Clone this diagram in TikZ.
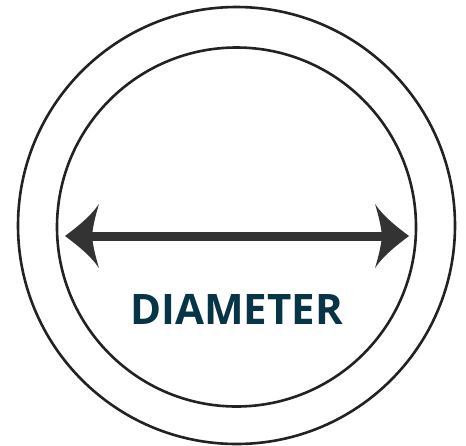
\documentclass[tikz,border=0pt]{standalone}
\usepackage{fontspec}
\setmainfont{Open Sans}
\definecolor{labelblue}{RGB}{8,52,72}
\definecolor{ringgray}{RGB}{34,34,34}
\definecolor{arrowgray}{RGB}{51,51,51}
\tikzset{
  ring/.style={draw=ringgray, line width=2.6pt},
  shaft/.style={draw=arrowgray, line width=9pt},
  head/.style={fill=arrowgray, draw=none},
  label/.style={text=labelblue, font=\fontsize{42}{42}\selectfont\bfseries, inner sep=0pt, anchor=base}
}
\begin{document}
\begin{tikzpicture}[x=1pt,y=-1pt]
\useasboundingbox[fill=white] (0,0) rectangle (466,445);
\coordinate (c) at (236.5,225.5);
\draw[ring] (c) circle[radius=218.5];
\draw[ring] (236.5,227) circle[radius=179.5];
\coordinate (L) at (90,236);
\coordinate (R) at (384,236);
\draw[shaft] (L) -- (R);
% left head
\fill[head] (65,236) .. controls (77,227) and (90,217) .. (99,204)
  .. controls (96,214) and (93,225) .. (92,236)
  .. controls (93,247) and (96,258) .. (99,268)
  .. controls (90,255) and (77,245) .. (65,236) -- cycle;
% right head
\fill[head] (409,236) .. controls (397,227) and (384,217) .. (375,204)
  .. controls (378,214) and (381,225) .. (382,236)
  .. controls (381,247) and (378,258) .. (375,268)
  .. controls (384,255) and (397,245) .. (409,236) -- cycle;
\node[label] (t) at (236.5,324) {DIAMETER};
\end{tikzpicture}
\end{document}
